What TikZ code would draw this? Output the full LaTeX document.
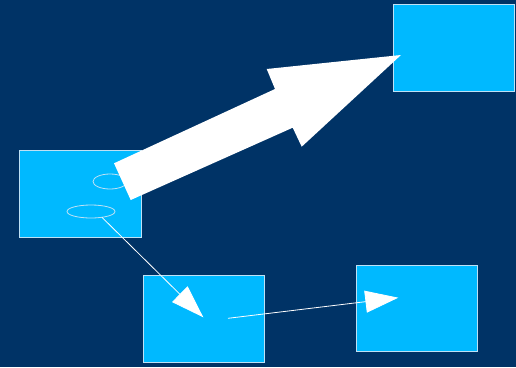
\documentclass[tikz,border=0pt]{standalone}
\usetikzlibrary{arrows.meta,shapes.geometric}
\definecolor{navy}{RGB}{0,51,102}
\definecolor{boxblue}{RGB}{0,185,255}
\definecolor{edge}{RGB}{190,225,245}
\begin{document}
\begin{tikzpicture}[x=1pt,y=-1pt,
  bluebox/.style={draw=edge,fill=boxblue,line width=0.9pt,inner sep=0pt,outer sep=0pt},
  oval/.style={ellipse,draw=edge,line width=0.8pt,inner sep=0pt,outer sep=0pt},
  thinarrow/.style={draw=white,line width=0.8pt,-{Triangle[length=33pt,width=22pt]}}]
\fill[navy] (0,0) rectangle (516,367);
\useasboundingbox (0,0) rectangle (516,367);
\node[bluebox,minimum width=122pt,minimum height=87pt] (left) at (80,193.5) {};
\node[bluebox,minimum width=121pt,minimum height=87pt] (top) at (454.2,48.4) {};
\node[bluebox,minimum width=121pt,minimum height=87pt] (bottom) at (203.8,319.2) {};
\node[bluebox,minimum width=121pt,minimum height=86pt] (right) at (417.2,308.9) {};
\node[oval,minimum width=34pt,minimum height=15pt] (e1) at (110,181.5) {};
\node[oval,minimum width=48pt,minimum height=13pt] (e2) at (91,211.5) {};
\fill[white] (114,163.3) -- (275,89) -- (266.7,69) -- (401,55) -- (301.7,146.7) -- (292.7,127.7) -- (130.7,200) -- cycle;
\coordinate (t1) at (203.3,317.3);
\coordinate (s2) at (228,318.3);
\coordinate (t2) at (398.3,297.7);
\draw[thinarrow] (e2.-28) -- (t1);
\draw[thinarrow] (s2) -- (t2);
\end{tikzpicture}
\end{document}
